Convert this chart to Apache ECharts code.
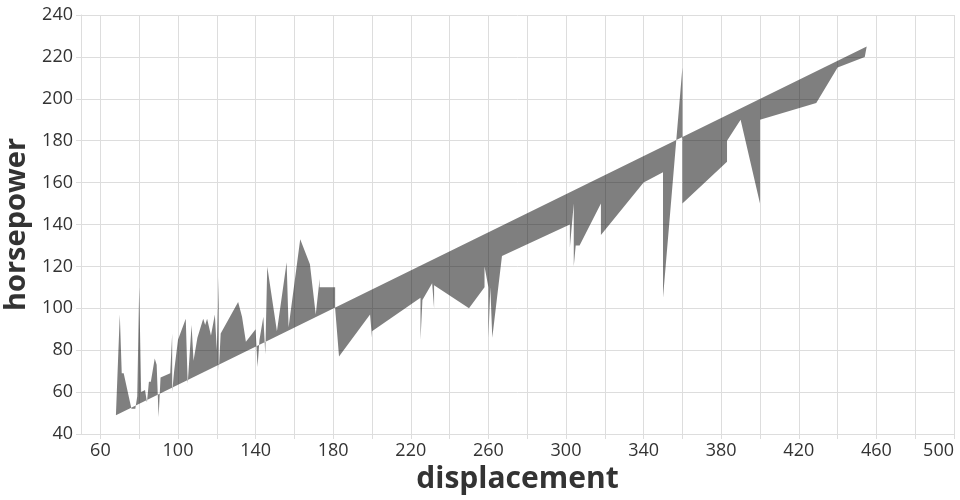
<!DOCTYPE html>
<html><head><meta charset="utf-8">
<script src="https://cdn.jsdelivr.net/npm/echarts@6/dist/echarts.min.js"></script>
<style>html,body{margin:0;padding:0;background:#fff}#c{width:960px;height:500px}</style>
</head><body><div id="c"></div>
<script>
// displacement / horsepower vertices, in drawing order (sorted by displacement)
const displacement = [68,70,71,72,76,78,79,80,81,83,84,85,86,88,89,90,91,96,97,97,98,100,104,105,107,108,110,113,114,115,117,119,120,121,121,122,131,133,135,140,141,142,144,145,146,151,156,157,163,168,171,173,173,181,181,183,199,200,200,225,225,226,231,232,232,250,258,258,260,260,261,262,267,302,302,304,304,305,307,318,318,340,350,350,360,360,383,383,390,400,400,429,440,454,455];
const horsepower   = [49,97,69,69,52,52,58,110,60,61,55,65,65,76,73,48,67,69,88,60,70,85,95,64,92,75,86,95,92,95,87,97,80,115,70,88,103,96,84,90,72,85,96,78,120,89,122,91,133,121,97,114,110,110,100,77,97,86,89,105,85,104,112,100,111,100,110,120,110,86,110,86,125,140,129,150,120,130,130,150,135,160,165,105,215,150,170,180,190,150,190,198,215,220,225];
const xTickValues  = [60,80,100,120,140,160,180,200,220,240,260,280,300,320,340,360,380,400,420,440,460,480,500];
const xLabelValues = [60,100,140,180,220,260,300,340,380,420,460,500];
const yMin = 40, yMax = 240, yStep = 20;

const points = displacement.map((d, i) => [d, horsepower[i]]);
const chart = echarts.init(document.getElementById('c'), null, {renderer: 'canvas'});
const font = 'Open Sans';
chart.setOption({
  animation: false,
  backgroundColor: '#fff',
  grid: {left: 81, right: 6, top: 15, bottom: 66, containLabel: false, outerBoundsMode: 'none'},
  xAxis: {
    type: 'value', min: 50, max: 500,
    name: 'displacement', nameLocation: 'middle', nameGap: 30,
    nameTextStyle: {fontFamily: font, fontWeight: 'bold', fontSize: 30, color: '#333'},
    axisLine: {show: true, lineStyle: {color: '#ddd'}},
    axisTick: {show: true, length: 5, lineStyle: {color: '#ddd'}, customValues: xTickValues},
    axisLabel: {customValues: xLabelValues, fontFamily: font, fontSize: 18, color: '#333', margin: 8, alignMaxLabel: 'right'},
    splitLine: {show: true, lineStyle: {color: '#ddd'}}
  },
  yAxis: {
    type: 'value', min: yMin, max: yMax, interval: yStep,
    name: 'horsepower', nameLocation: 'middle', nameGap: 47, nameRotate: 90,
    nameTextStyle: {fontFamily: font, fontWeight: 'bold', fontSize: 29, color: '#333'},
    axisLine: {show: true, lineStyle: {color: '#ddd'}},
    axisTick: {show: true, length: 5, lineStyle: {color: '#ddd'}},
    axisLabel: {fontFamily: font, fontSize: 18, color: '#333', margin: 8},
    splitLine: {show: true, lineStyle: {color: '#ddd'}}
  },
  series: [{
    type: 'custom',
    data: points,
    encode: {x: 0, y: 1},
    clip: true,
    renderItem: function (params, api) {
      if (params.dataIndex !== 0) return null;
      const pts = points.map(p => api.coord(p));
      return {type: 'polygon', shape: {points: pts}, style: {fill: 'rgba(0,0,0,0.5)', stroke: null}};
    }
  }]
});
</script></body></html>
